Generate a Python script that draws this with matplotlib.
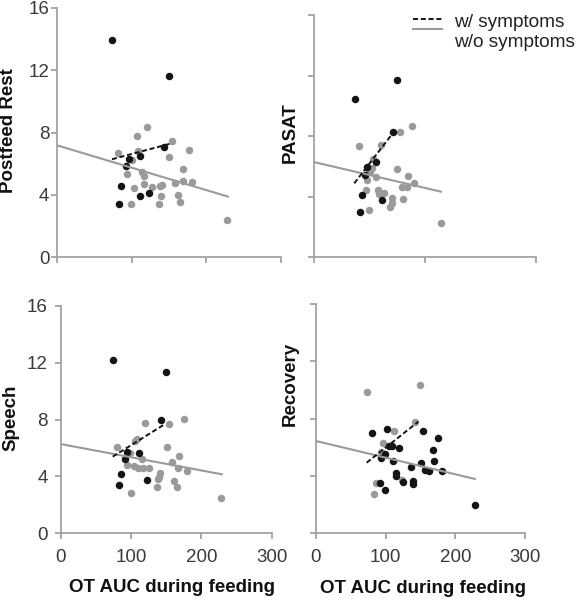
import numpy as np
import matplotlib
matplotlib.use("Agg")
import matplotlib.pyplot as plt
from matplotlib.lines import Line2D
from matplotlib.legend_handler import HandlerLine2D

plt.rcParams['font.family'] = ['Liberation Sans', 'DejaVu Sans']

# ---------------- data ----------------
# Postfeed Rest
rest_black_x = [73.8, 149.8, 142.6, 110.9, 96.2, 92.1, 85.8, 82.8, 110.4, 122.4]
rest_black_y = [13.94, 11.65, 7.05, 6.49, 6.30, 5.83, 4.56, 3.39, 3.92, 4.09]
rest_gray_x = [120.2, 106.4, 154.3, 176.2, 80.9, 108.6, 150.2, 100.1, 93.9, 113.2, 115.8, 168.5, 115.8,
               102.8, 126.5, 140.4, 138.0, 157.8, 168.1, 180.6, 138.6, 161.5, 164.5, 98.8, 135.8, 227.6]
rest_gray_y = [8.35, 7.78, 7.45, 6.88, 6.68, 6.81, 6.45, 6.23, 5.36, 5.46, 5.23, 5.65, 4.69,
               4.41, 4.48, 4.63, 4.55, 4.73, 4.90, 4.82, 3.92, 3.96, 3.55, 3.41, 3.39, 2.40]
rest_fit_wo_x = [0, 229]
rest_fit_wo_y = [7.17, 3.88]
rest_fit_w_x = [73.3, 153.8]
rest_fit_w_y = [6.28, 7.31]

# PASAT
pasat_black_x = [74.3, 150.4, 143.2, 96.4, 87.7, 83.3, 123.5, 112.1, 92.3]
pasat_black_y = [10.45, 11.70, 8.24, 5.97, 4.10, 2.99, 3.77, 6.28, 5.42]
pasat_gray_x = [176.3, 155.3, 81.5, 120.5, 107.2, 104.3, 101.2, 95.2, 112.1, 150.4, 169.7, 158.3, 167.9,
                180.5, 94.2, 116.3, 118.1, 127.1, 140.4, 161.3, 141.4, 137.2, 100.1, 228.5, 98.8]
pasat_gray_y = [8.66, 8.29, 7.34, 7.38, 6.46, 5.86, 5.64, 5.09, 5.27, 5.80, 5.38, 4.65, 4.65,
                4.87, 4.43, 4.43, 4.15, 4.25, 3.88, 3.81, 3.59, 3.28, 3.11, 2.27, 5.75]
pasat_fit_wo_x = [0, 229]
pasat_fit_wo_y = [6.28, 4.32]
pasat_fit_w_x = [73.0, 144.5]
pasat_fit_w_y = [4.87, 8.29]

# Speech
speech_black_x = [73.9, 149.7, 142.2, 111.8, 94.7, 91.5, 86.2, 83.3, 122.7]
speech_black_y = [12.19, 11.37, 7.96, 5.66, 5.73, 5.19, 4.16, 3.40, 3.71]
speech_gray_x = [120.0, 154.4, 175.7, 108.0, 105.6, 80.6, 98.6, 150.7, 115.2, 168.7, 157.8, 93.8, 104.2,
                 110.4, 116.6, 126.0, 141.2, 139.8, 138.3, 167.3, 180.1, 161.6, 136.5, 164.9, 99.5, 227.9]
speech_gray_y = [7.78, 7.66, 8.03, 6.60, 6.47, 6.04, 5.66, 6.08, 5.24, 5.43, 5.03, 4.79, 4.72,
                 4.60, 4.60, 4.56, 4.21, 3.97, 3.78, 4.56, 4.39, 3.69, 3.22, 3.26, 2.84, 2.45]
speech_fit_wo_x = [0, 228.9]
speech_fit_wo_y = [6.27, 4.14]
speech_fit_w_x = [73.9, 148.3]
speech_fit_w_y = [5.38, 7.68]

# Recovery
recov_gray_x = [73.9, 149.7, 142.1, 111.6, 95.9, 93.5, 85.9, 83.0, 123.0]
recov_gray_y = [9.89, 10.38, 7.77, 7.16, 6.28, 5.69, 3.52, 2.73, 3.71]
recov_black_x = [80.1, 102.5, 154.0, 175.5, 105.0, 108.8, 119.7, 167.3, 99.6, 92.9, 111.1, 168.7, 150.3,
                 135.9, 157.0, 162.0, 180.3, 114.9, 114.9, 125.4, 139.8, 139.0, 92.2, 98.8, 228.0]
recov_black_y = [7.02, 7.26, 7.17, 6.67, 6.10, 6.10, 5.98, 5.80, 5.55, 5.25, 5.05, 5.04, 4.92,
                 4.64, 4.40, 4.34, 4.35, 4.20, 3.98, 3.60, 3.65, 3.45, 3.52, 2.98, 1.93]
recov_fit_wo_x = [0, 228]
recov_fit_wo_y = [6.44, 3.78]
recov_fit_w_x = [72.9, 146.9]
recov_fit_w_y = [4.92, 7.79]

y_ticks = [0, 4, 8, 12, 16]
x_ticks = [0, 100, 200, 300]
x_ticks_pasat = [0, 200, 400]
xlabel_text = "OT AUC during feeding"
legend_labels = ["w/ symptoms", "w/o symptoms"]

# ---------------- style ----------------
W, H = 577, 600
BLACK = '#141414'
GRAY = '#9a9a9a'
SPINE = '#a3a3a3'
TICKC = '#3a3a3a'
MS = 5.4

fig = plt.figure(figsize=(W / 100, H / 100), dpi=100)


def make_ax(left, right, top, bottom):
    return fig.add_axes([left / W, 1 - bottom / H, (right - left) / W, (bottom - top) / H])


ax_tl = make_ax(57.3, 281.0, 8.0, 257.0)
ax_tr = make_ax(313.7, 536.0, 15.0, 257.0)
ax_bl = make_ax(60.7, 271.7, 306.0, 533.0)
ax_br = make_ax(315.7, 525.3, 304.3, 533.0)

panels = [
    (ax_tl, rest_gray_x, rest_gray_y, rest_black_x, rest_black_y,
     rest_fit_wo_x, rest_fit_wo_y, rest_fit_w_x, rest_fit_w_y, "Postfeed Rest", x_ticks, 300),
    (ax_tr, pasat_gray_x, pasat_gray_y, pasat_black_x, pasat_black_y,
     pasat_fit_wo_x, pasat_fit_wo_y, pasat_fit_w_x, pasat_fit_w_y, "PASAT", x_ticks_pasat, 400),
    (ax_bl, speech_gray_x, speech_gray_y, speech_black_x, speech_black_y,
     speech_fit_wo_x, speech_fit_wo_y, speech_fit_w_x, speech_fit_w_y, "Speech", x_ticks, 300),
    (ax_br, recov_gray_x, recov_gray_y, recov_black_x, recov_black_y,
     recov_fit_wo_x, recov_fit_wo_y, recov_fit_w_x, recov_fit_w_y, "Recovery", x_ticks, 300),
]

for (ax, gx, gy, bx, by, swx, swy, dwx, dwy, ylab, xt, xmax) in panels:
    ax.plot(gx, gy, 'o', color=GRAY, ms=MS, mec='none', zorder=2)
    ax.plot(bx, by, 'o', color=BLACK, ms=MS, mec='none', zorder=3)
    ax.plot(swx, swy, '-', color=GRAY, lw=1.5, zorder=4)
    ax.plot(dwx, dwy, '--', color=BLACK, lw=1.4, dashes=(2.6, 1.4), zorder=5)
    ax.set_xlim(0, xmax)
    ax.set_ylim(0, 16)
    ax.set_xticks(xt)
    ax.set_yticks(y_ticks)
    for s in ['top', 'right']:
        ax.spines[s].set_visible(False)
    for s in ['left', 'bottom']:
        ax.spines[s].set_color(SPINE)
        ax.spines[s].set_linewidth(1.3)
    ax.tick_params(axis='both', direction='out', color=SPINE, width=1.3, length=4.2,
                   labelsize=13.5, labelcolor=TICKC)
    ax.tick_params(axis='x', pad=7)
    ax.set_ylabel(ylab, fontsize=13.5, fontweight='bold', color='#111111', va='center')
    ax.patch.set_visible(False)

# tick label visibility
ax_tl.tick_params(axis='x', labelbottom=False)
ax_tl.tick_params(axis='y', pad=1.5)
ax_tr.tick_params(axis='both', labelbottom=False, labelleft=False)
ax_bl.tick_params(axis='y', pad=5)
ax_br.tick_params(axis='y', labelleft=False)

# label positions
ax_tl.yaxis.set_label_coords(-0.218, 0.506)
ax_tr.yaxis.set_label_coords(-0.106, 0.512)
ax_bl.yaxis.set_label_coords(-0.236, 0.507)
ax_br.yaxis.set_label_coords(-0.122, 0.651)

for ax, xc in [(ax_bl, 0.526), (ax_br, 0.513)]:
    ax.set_xlabel(xlabel_text, fontsize=13.5, fontweight='bold', color='#111111', va='center')
    ax.xaxis.set_label_coords(xc, -0.242)


# legend
class OffsetLineHandler(HandlerLine2D):
    def __init__(self, dy=0.0, **kw):
        super().__init__(**kw)
        self.dy = dy

    def create_artists(self, legend, orig_handle, xdescent, ydescent, width, height, fontsize, trans):
        arts = super().create_artists(legend, orig_handle, xdescent, ydescent, width, height, fontsize, trans)
        for a in arts:
            a.set_ydata(np.asarray(a.get_ydata(), dtype=float) + self.dy)
        return arts


h_w = Line2D([], [], color=BLACK, lw=1.4, ls='--', dashes=(2.6, 1.4))
h_wo = Line2D([], [], color=GRAY, lw=1.5, ls='-')
leg = ax_tr.legend([h_w, h_wo], legend_labels, loc='upper left',
                   bbox_to_anchor=(412.7 / W, 1 - 14 / H), bbox_transform=fig.transFigure,
                   frameon=False, fontsize=13.7, borderpad=0, borderaxespad=0,
                   handlelength=1.55, handletextpad=0.6, labelspacing=0.1,
                   handler_map={h_w: OffsetLineHandler(dy=1.5), h_wo: OffsetLineHandler(dy=8.0)})
for t in leg.get_texts():
    t.set_color('#222222')

fig.savefig("out.png", dpi=100)
